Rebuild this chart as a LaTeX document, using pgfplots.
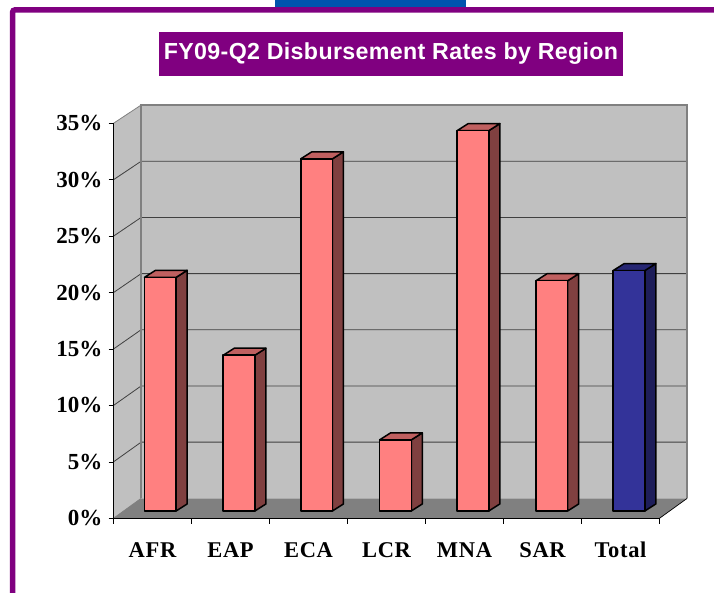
\documentclass[border=0pt]{standalone}
\usepackage{fontspec}
\setmainfont{Liberation Serif}
\newfontfamily\titlefont[LetterSpace=1.5]{Liberation Sans}
\newfontfamily\catfont[LetterSpace=3]{Liberation Serif}
\usepackage{pgfplots}
\pgfplotsset{compat=1.18}
\definecolor{framepurple}{RGB}{128,0,128}
\definecolor{topblue}{RGB}{0,84,174}
\definecolor{wallgray}{RGB}{192,192,192}
\definecolor{floorgray}{RGB}{128,128,128}
\definecolor{gridgray}{RGB}{64,64,64}
\definecolor{pinkfront}{RGB}{255,128,128}
\definecolor{pinktop}{RGB}{192,96,96}
\definecolor{pinkside}{RGB}{128,64,64}
\definecolor{bluefront}{RGB}{51,51,153}
\definecolor{bluetop}{RGB}{38,38,115}
\definecolor{blueside}{RGB}{30,30,90}

% one 3D bar: centre x, value, front colour, top colour, side colour
\newcommand{\threedbar}[5]{%
  \pgfmathsetmacro{\xl}{#1-0.203}%
  \pgfmathsetmacro{\xr}{#1+0.203}%
  \pgfmathsetmacro{\xs}{#1+0.203+0.141}%
  \pgfmathsetmacro{\xt}{#1-0.203+0.141}%
  \pgfmathsetmacro{\yt}{#2+0.65}%
  \pgfmathsetmacro{\ytt}{#2+0.65+0.62}%
  \addplot[barface,fill=#5] coordinates {(\xr,0.65) (\xs,1.27) (\xs,\ytt) (\xr,\yt)} --cycle;
  \addplot[barface,fill=#4] coordinates {(\xl,\yt) (\xt,\ytt) (\xs,\ytt) (\xr,\yt)} --cycle;
  \addplot[barface,fill=#3] coordinates {(\xl,0.65) (\xr,0.65) (\xr,\yt) (\xl,\yt)} --cycle;
}

\begin{document}
\begin{tikzpicture}[x=1pt,y=1pt]
\useasboundingbox (0,0) rectangle (714,593);
\fill[topblue] (275,586) rectangle (466,593);
\draw[framepurple,line width=5.5pt,rounded corners=2pt] (12.7,-5) -- (12.7,583) -- (720,583);
\fill[framepurple] (159,517) rectangle (623,561);
\node[text=white,inner sep=0pt] at (391,539.5) {\titlefont\bfseries\fontsize{23.2}{26}\selectfont FY09-Q2 Disbursement Rates by Region};
\coordinate (o) at (113.5,74.7);
\begin{axis}[
  at={(o)}, anchor=south west,
  scale only axis, width=546pt, height=395pt,
  clip=false,
  xmin=-0.5, xmax=6.5, ymin=0, ymax=35,
  axis x line=bottom, axis y line=left,
  axis line style={-,black,line width=0.7pt},
  tick align=outside,
  xtick={0,1,2,3,4,5,6},
  xticklabels={AFR,EAP,ECA,LCR,MNA,SAR,Total},
  minor xtick={-0.5,0.5,1.5,2.5,3.5,4.5,5.5,6.5},
  major x tick style={draw=none},
  minor tick length=5.5pt,
  ytick={0,5,10,15,20,25,30,35},
  yticklabels={0\%,5\%,10\%,15\%,20\%,25\%,30\%,35\%},
  major tick length=5pt,
  tick style={black,line width=0.7pt},
  xticklabel style={font=\catfont\bfseries\fontsize{22.5}{24}\selectfont,yshift=-34pt,inner sep=0pt,anchor=base,text height=14pt},
  yticklabel style={font=\bfseries\fontsize{23}{24}\selectfont,xshift=-6pt,inner sep=0pt},
  /pgf/number format/assume math mode=true,
  barface/.style={draw=black,line width=1.5pt,line join=round,forget plot},
  no markers,
]
% walls and floor
\addplot[fill=wallgray,draw=none,forget plot] coordinates {(-0.5,0) (-0.145,1.77) (-0.145,36.62) (-0.5,35)} --cycle;
\addplot[fill=wallgray,draw=none,forget plot] coordinates {(-0.145,1.77) (6.855,1.77) (6.855,36.62) (-0.145,36.62)} --cycle;
\addplot[fill=floorgray,draw=none,forget plot] coordinates {(-0.5,0) (6.5,0) (6.855,1.77) (-0.145,1.77)} --cycle;
% gridlines on both walls
\addplot[gridgray,line width=0.8pt,forget plot,unbounded coords=jump] coordinates {
  (-0.5,5) (-0.145,6.75) (6.855,6.75) (6.855,nan)
  (-0.5,10) (-0.145,11.73) (6.855,11.73) (6.855,nan)
  (-0.5,15) (-0.145,16.71) (6.855,16.71) (6.855,nan)
  (-0.5,20) (-0.145,21.68) (6.855,21.68) (6.855,nan)
  (-0.5,25) (-0.145,26.66) (6.855,26.66) (6.855,nan)
  (-0.5,30) (-0.145,31.64) (6.855,31.64)
};
% wall borders
\addplot[floorgray,line width=1.5pt,forget plot] coordinates {(-0.145,1.77) (-0.145,36.62) (6.855,36.62) (6.855,1.77)};
\addplot[floorgray,line width=0.8pt,forget plot] coordinates {(-0.5,35) (-0.145,36.62)};
\addplot[floorgray,line width=0.8pt,forget plot] coordinates {(-0.5,0) (-0.145,1.77)};
\addplot[black,line width=0.7pt,forget plot] coordinates {(6.5,0) (6.855,1.77)};
% bars
\threedbar{0.10}{20.7}{pinkfront}{pinktop}{pinkside}
\threedbar{1.11}{13.8}{pinkfront}{pinktop}{pinkside}
\threedbar{2.104}{31.2}{pinkfront}{pinktop}{pinkside}
\threedbar{3.115}{6.3}{pinkfront}{pinktop}{pinkside}
\threedbar{4.109}{33.7}{pinkfront}{pinktop}{pinkside}
\threedbar{5.12}{20.4}{pinkfront}{pinktop}{pinkside}
\threedbar{6.109}{21.3}{bluefront}{bluetop}{blueside}
% front edges of the box
\addplot[black,line width=0.7pt,forget plot] coordinates {(-0.5,35) (-0.5,0) (6.5,0)};
\end{axis}
\end{tikzpicture}
\end{document}
